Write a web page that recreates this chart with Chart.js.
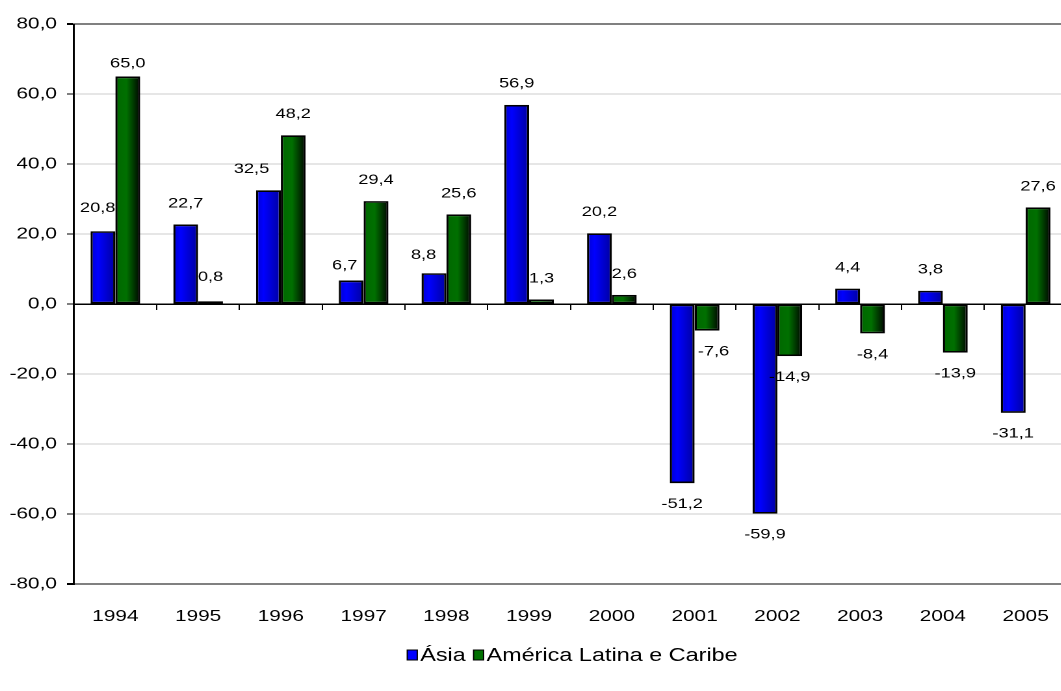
<!DOCTYPE html>
<html>
<head>
<meta charset="utf-8">
<title>Ásia e América Latina e Caribe, 1994–2005</title>
<script src="https://cdn.jsdelivr.net/npm/chart.js@4/dist/chart.umd.min.js"></script>
<style>
  html, body { margin: 0; padding: 0; background: #ffffff; overflow: hidden; }
  #wrap { width: 1061px; height: 691px; overflow: hidden; position: relative; }
  /* the chart is laid out narrow and widened horizontally, giving the wide lettering */
  #chart { display: block; transform: scaleX(1.3); transform-origin: 0 0; }
</style>
</head>
<body>
<div id="wrap"><canvas id="chart" width="830" height="691"></canvas></div>
<script>
// Years on the category axis
const years = ['1994', '1995', '1996', '1997', '1998', '1999', '2000', '2001', '2002', '2003', '2004', '2005'];

// Series values (%)
const asia = [20.8, 22.7, 32.5, 6.7, 8.8, 56.9, 20.2, -51.2, -59.9, 4.4, 3.8, -31.1];
const americaLatina = [65.0, 0.8, 48.2, 29.4, 25.6, 1.3, 2.6, -7.6, -14.9, -8.4, -13.9, 27.6];

// Value axis ticks
const yTicks = [-80, -60, -40, -20, 0, 20, 40, 60, 80];

// Hand-placed value labels: small [dx, dy] pixel nudges per bar
const asiaLabelNudge = [[-4, -2], [0, 0], [-13, 0], [-5, 6], [-8, 3], [0, 0], [0, 0], [0, 0], [0, 0], [0, 0], [0, 0], [0, 0]];
const latamLabelNudge = [[0, 8], [0, -3], [0, 0], [0, 0], [0, 0], [0, 0], [0, 0], [5, 0], [0, 0], [0, 0], [0, 0], [0, 0]];

const FONT = "'Liberation Sans', Arial, Helvetica, sans-serif";
const fmt = v => v.toFixed(1).replace('.', ',');

// Shaded bar fills: each bar gets its own left-to-right gradient
const fills = [
  [[0, '#0000d0'], [0.3, '#0000ff'], [1, '#0000a0']],
  [[0, '#006800'], [0.45, '#007000'], [1, '#000500']]
];
const legendColors = ['#0000ff', '#007000'];

const gradientBars = {
  id: 'gradientBars',
  beforeDatasetsDraw(chart) {
    const ctx = chart.ctx;
    chart.data.datasets.forEach((ds, di) => {
      const meta = chart.getDatasetMeta(di);
      meta.data.forEach(bar => {
        const { x, width } = bar.getProps(['x', 'width'], true);
        const g = ctx.createLinearGradient(x - width / 2, 0, x + width / 2, 0);
        fills[di].forEach(([o, c]) => g.addColorStop(o, c));
        bar.options = Object.assign({}, bar.options, { backgroundColor: g });
      });
    });
  }
};

// Value labels above positive bars and below negative ones
const nudges = [asiaLabelNudge, latamLabelNudge];
const valueLabels = {
  id: 'valueLabels',
  afterDatasetsDraw(chart) {
    const ctx = chart.ctx;
    ctx.save();
    ctx.font = '14px ' + FONT;
    ctx.fillStyle = '#000000';
    ctx.textAlign = 'center';
    ctx.textBaseline = 'middle';
    chart.data.datasets.forEach((ds, di) => {
      const meta = chart.getDatasetMeta(di);
      meta.data.forEach((bar, i) => {
        const v = ds.data[i];
        const { x, y } = bar.getProps(['x', 'y'], true);
        const [dx, dy] = nudges[di][i];
        const ty = v >= 0 ? y - 21 : y + 21;
        ctx.fillText(fmt(v), x + dx, ty + dy);
      });
    });
    ctx.restore();
  }
};

// Compact legend under the axis: square swatch, tight gap, label
const bottomLegend = {
  id: 'bottomLegend',
  afterDraw(chart) {
    const ctx = chart.ctx;
    const area = chart.chartArea;
    ctx.save();
    ctx.font = '18px ' + FONT;
    ctx.textBaseline = 'middle';
    ctx.textAlign = 'left';
    const box = 7.7, boxH = 10, gap = 2.3, spacing = 6;
    const items = chart.data.datasets.map((ds, i) => ({
      text: ds.label, color: legendColors[i], w: ctx.measureText(ds.label).width
    }));
    const total = items.reduce((s, it) => s + box + gap + it.w, 0) + spacing * (items.length - 1);
    let x = (area.left + area.right) / 2 - total / 2 + 1.5;
    const cy = 655;
    items.forEach(it => {
      ctx.fillStyle = it.color;
      ctx.fillRect(x, cy - boxH / 2, box, boxH);
      ctx.strokeStyle = '#000000';
      ctx.lineWidth = 1;
      ctx.strokeRect(x, cy - boxH / 2, box, boxH);
      ctx.fillStyle = '#000000';
      ctx.fillText(it.text, x + box + gap, cy + 1);
      x += box + gap + it.w + spacing;
    });
    ctx.restore();
  }
};

new Chart(document.getElementById('chart'), {
  type: 'bar',
  data: {
    labels: years,
    datasets: [
      {
        label: 'Ásia',
        data: asia,
        backgroundColor: '#0000ee',
        borderColor: '#000000',
        borderWidth: 1.7,
        borderSkipped: false,
        categoryPercentage: 0.6,
        barPercentage: 1.0
      },
      {
        label: 'América Latina e Caribe',
        data: americaLatina,
        backgroundColor: '#006a00',
        borderColor: '#000000',
        borderWidth: 1.7,
        borderSkipped: false,
        categoryPercentage: 0.6,
        barPercentage: 1.0
      }
    ]
  },
  options: {
    responsive: false,
    animation: false,
    devicePixelRatio: 2,
    events: [],
    layout: { padding: { left: 0, right: 6.5, top: 24, bottom: 53 } },
    plugins: {
      tooltip: { enabled: false },
      legend: { display: false }
    },
    scales: {
      x: {
        position: 'bottom',
        offset: true,
        grid: { display: false, drawTicks: false },
        border: { display: false },
        ticks: {
          font: { family: FONT, size: 16 },
          color: '#000000',
          padding: 23,
          maxRotation: 0,
          autoSkip: false
        },
        afterFit(scale) { scale.height = 54; }
      },
      x0: {
        type: 'category',
        position: { y: 0 },
        offset: true,
        grid: {
          display: true,
          offset: true,
          drawOnChartArea: false,
          drawTicks: true,
          tickLength: 5,
          color: '#000000',
          lineWidth: 1
        },
        border: { display: true, color: '#000000', width: 1.5 },
        ticks: { display: false }
      },
      y: {
        min: -80,
        max: 80,
        afterBuildTicks(scale) { scale.ticks = yTicks.map(v => ({ value: v })); },
        ticks: {
          font: { family: FONT, size: 16 },
          color: '#000000',
          padding: 7.7,
          callback: v => fmt(v)
        },
        grid: {
          color: c => {
            const v = c.tick ? c.tick.value : null;
            if (v === 0) return 'rgba(0,0,0,0)';
            if (v === 80 || v === -80) return '#808080';
            return '#cccccc';
          },
          lineWidth: c => {
            const v = c.tick ? c.tick.value : null;
            return (v === 80 || v === -80) ? 2 : 1;
          },
          tickColor: '#000000',
          tickLength: 5.4
        },
        border: { display: true, color: '#000000', width: 1.5 },
        afterFit(scale) { scale.width = 56.9; }
      }
    }
  },
  plugins: [gradientBars, valueLabels, bottomLegend]
});
</script>
</body>
</html>
